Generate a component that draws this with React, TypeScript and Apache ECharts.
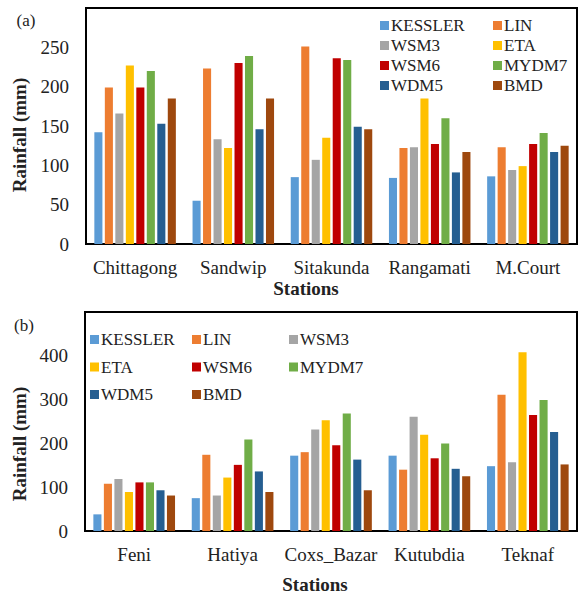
import React, { useEffect, useRef } from "react";
import * as echarts from "echarts";

const seriesNames = ["KESSLER", "LIN", "WSM3", "ETA", "WSM6", "MYDM7", "WDM5", "BMD"];
const colors = ["#5B9BD5", "#ED7D31", "#A5A5A5", "#FFC000", "#C00000", "#70AD47", "#255E91", "#9E480E"];

const stationsA = ["Chittagong", "Sandwip", "Sitakunda", "Rangamati", "M.Court"];
const stationsB = ["Feni", "Hatiya", "Coxs_Bazar", "Kutubdia", "Teknaf"];

const kesslerA = [142, 55, 85, 84, 86];
const linA = [199, 223, 251, 122, 123];
const wsm3A = [166, 133, 107, 123, 94];
const etaA = [227, 122, 135, 185, 99];
const wsm6A = [199, 230, 236, 127, 127];
const mydm7A = [220, 239, 234, 160, 141];
const wdm5A = [153, 146, 149, 91, 117];
const bmdA = [185, 185, 146, 117, 125];

const kesslerB = [38, 75, 172, 172, 148];
const linB = [108, 174, 180, 140, 311];
const wsm3B = [119, 81, 232, 261, 157];
const etaB = [89, 122, 253, 220, 408];
const wsm6B = [111, 151, 196, 166, 265];
const mydm7B = [111, 209, 268, 200, 299];
const wdm5B = [93, 136, 163, 142, 226];
const bmdB = [81, 89, 93, 125, 152];

const yTicksA = [0, 50, 100, 150, 200, 250];
const yTicksB = [0, 100, 200, 300, 400];

const dataA = [kesslerA, linA, wsm3A, etaA, wsm6A, mydm7A, wdm5A, bmdA];
const dataB = [kesslerB, linB, wsm3B, etaB, wsm6B, mydm7B, wdm5B, bmdB];

const FONT = "Liberation Serif";
const TXT = "#222";

export default function App() {
  const ref = useRef<HTMLDivElement>(null);
  useEffect(() => {
    if (!ref.current) return;
    const chart = echarts.init(ref.current, null, { renderer: "svg" });

    const yAxis = (gridIndex: number, max: number, interval: number, ticks: number[]) => ({
      type: "value",
      gridIndex,
      min: 0,
      max,
      interval,
      splitLine: { show: false },
      axisLine: { show: true, lineStyle: { color: "#000", width: 1.5 } },
      axisTick: { show: false },
      axisLabel: {
        fontFamily: FONT,
        fontSize: 19,
        color: TXT,
        margin: 17,
        formatter: (v: number) => (ticks.indexOf(v) >= 0 ? String(v) : ""),
      },
    });
    const xAxis = (gridIndex: number, cats: string[]) => ({
      type: "category",
      gridIndex,
      data: cats,
      axisLine: { show: true, lineStyle: { color: "#000", width: 2 } },
      axisTick: { show: false },
      axisLabel: { interval: 0, fontFamily: FONT, fontSize: 19, color: TXT, margin: 14 },
    });

    const series: any[] = [];
    seriesNames.forEach((n, i) => {
      series.push({
        name: n, type: "bar", xAxisIndex: 0, yAxisIndex: 0, data: dataA[i],
        itemStyle: { color: colors[i] }, barGap: "30%", barCategoryGap: "17%",
      });
    });
    seriesNames.forEach((n, i) => {
      series.push({
        name: n, type: "bar", xAxisIndex: 1, yAxisIndex: 1, data: dataB[i],
        itemStyle: { color: colors[i] }, barGap: "30%", barCategoryGap: "17%",
      });
    });

    const legend = (names: string[], left: number, top: number, gap: number) => ({
      data: names,
      orient: "vertical",
      left,
      top,
      itemGap: gap,
      itemWidth: 9,
      itemHeight: 9,
      icon: "rect",
      selectedMode: false,
      padding: 0,
      formatter: (n: string) => `{t|${n}}`,
      textStyle: {
        fontFamily: FONT, fontSize: 17, color: TXT, padding: [0, 0, 0, -3],
        rich: { t: { fontFamily: FONT, fontSize: 17, color: TXT } },
      },
    });

    chart.setOption({
      animation: false,
      backgroundColor: "#fff",
      textStyle: { fontFamily: FONT },
      grid: [
        { left: 86, top: 8, right: 4, bottom: 354, show: true, borderColor: "#000", borderWidth: 2 },
        { left: 85, top: 312, right: 4, bottom: 67, show: true, borderColor: "#000", borderWidth: 2 },
      ],
      xAxis: [xAxis(0, stationsA), xAxis(1, stationsB)],
      yAxis: [yAxis(0, 300, 50, yTicksA), yAxis(1, 500, 100, yTicksB)],
      legend: [
        legend(["KESSLER", "WSM3", "WSM6", "WDM5"], 380, 17, 3),
        legend(["LIN", "ETA", "MYDM7", "BMD"], 493, 17, 3),
        legend(["KESSLER", "ETA", "WDM5"], 90, 331, 10.5),
        legend(["LIN", "WSM6", "BMD"], 192, 331, 10.5),
        legend(["WSM3", "MYDM7"], 289, 331, 10.5),
      ],
      graphic: [
        { type: "text", x: 26, y: 20, style: { text: "(a)", font: `17px ${FONT}`, fill: TXT, textAlign: "center", textVerticalAlign: "middle" } },
        { type: "text", x: 24, y: 325, style: { text: "(b)", font: `17px ${FONT}`, fill: TXT, textAlign: "center", textVerticalAlign: "middle" } },
        { type: "text", x: 19, y: 135, rotation: Math.PI / 2, style: { text: "Rainfall (mm)", font: `bold 19px ${FONT}`, fill: TXT, textAlign: "center", textVerticalAlign: "middle" } },
        { type: "text", x: 19, y: 444, rotation: Math.PI / 2, style: { text: "Rainfall (mm)", font: `bold 19px ${FONT}`, fill: TXT, textAlign: "center", textVerticalAlign: "middle" } },
        { type: "text", x: 306, y: 288, style: { text: "Stations", font: `bold 19px ${FONT}`, fill: TXT, textAlign: "center", textVerticalAlign: "middle" } },
        { type: "text", x: 315, y: 584, style: { text: "Stations", font: `bold 19px ${FONT}`, fill: TXT, textAlign: "center", textVerticalAlign: "middle" } },
      ],
      series,
    });
    return () => chart.dispose();
  }, []);
  return <div ref={ref} style={{ position: "fixed", left: 0, top: 0, width: 581, height: 598 }} />;
}
